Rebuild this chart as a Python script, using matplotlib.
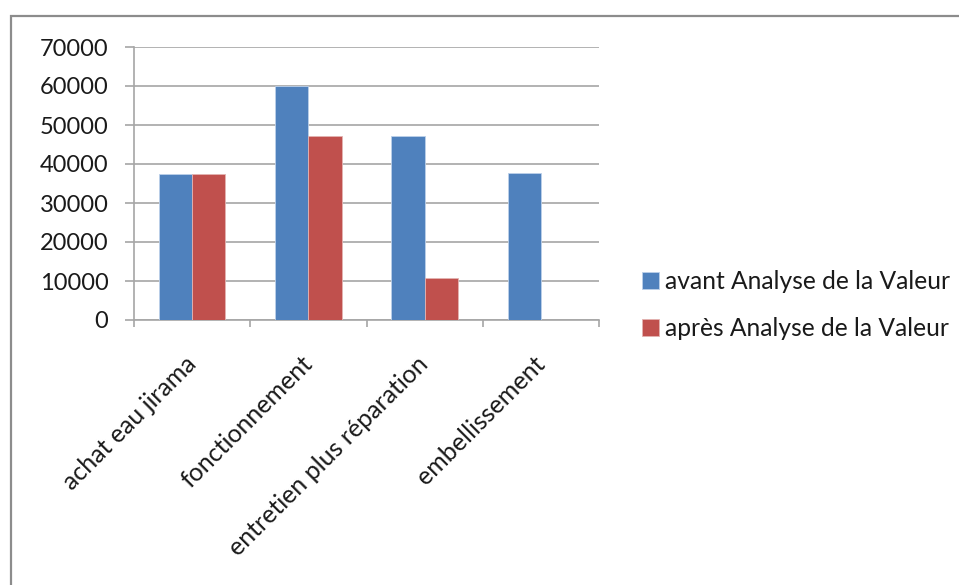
import numpy as np
import matplotlib.pyplot as plt
import matplotlib.transforms as mtransforms
from matplotlib.patches import Rectangle

categories = ['achat eau jirama', 'fonctionnement', 'entretien plus réparation', 'embellissement']
avant = [37400, 60000, 47200, 37700]
apres = [37400, 47200, 10700, 0]
series_names = ['avant Analyse de la Valeur', 'après Analyse de la Valeur']
yticks = [0, 10000, 20000, 30000, 40000, 50000, 60000, 70000]

blue = '#4F81BD'
red = '#C0504D'
grid = '#A6A6A6'

plt.rcParams['font.family'] = ['Lato', 'DejaVu Sans']

W, H = 959, 585
fig = plt.figure(figsize=(W / 100, H / 100), dpi=100)

# outer frame of the chart object (right and bottom edges fall outside the image)
fig.patches.append(Rectangle((11 / W, -0.2), 2, 1.2 - 16 / H, transform=fig.transFigure,
                             fill=False, edgecolor='#8C8C8C', linewidth=1.6))

ax = fig.add_axes([134 / W, (H - 320) / H, (599 - 134) / W, (320 - 47) / H])

x = np.arange(len(categories))
bw = 0.285
ax.bar(x - bw / 2, avant, bw, color=blue, edgecolor='#BCD0EA', linewidth=0.6,
       label=series_names[0], zorder=3)
ax.bar(x + bw / 2, apres, bw, color=red, edgecolor='#E3B3B2', linewidth=0.6,
       label=series_names[1], zorder=3)

ax.set_xlim(-0.5, len(categories) - 0.5)
ax.set_ylim(0, 70000)
ax.set_yticks(yticks)
ax.set_yticklabels([str(v) for v in yticks], fontsize=17, color='#1a1a1a')
ax.yaxis.grid(True, color=grid, linewidth=1.2, zorder=0)

ax.set_xticks(x)
ax.set_xticklabels(categories, rotation=45, ha='right', va='top',
                   rotation_mode='anchor', fontsize=18, color='#1a1a1a')
ax.tick_params(axis='x', which='major', length=0, pad=23)
shift = mtransforms.ScaledTranslation(-8 / 100, 0, fig.dpi_scale_trans)
for lbl in ax.get_xticklabels():
    lbl.set_transform(lbl.get_transform() + shift)
ax.set_xticks(np.arange(-0.5, len(categories)), minor=True)
ax.tick_params(axis='x', which='minor', length=5, width=1.2, color=grid)
ax.tick_params(axis='y', length=6.5, width=1.2, color=grid, pad=12)

for s in ['top', 'right']:
    ax.spines[s].set_visible(False)
for s in ['left', 'bottom']:
    ax.spines[s].set_color(grid)
    ax.spines[s].set_linewidth(1.2)

leg = ax.legend(loc='center left', bbox_to_anchor=(620 / W, (H - 305) / H),
                bbox_transform=fig.transFigure, frameon=False, fontsize=17.7,
                handlelength=0.7, handleheight=0.7, handletextpad=0.25,
                labelspacing=1.0, labelcolor='#1a1a1a')

fig.savefig('out.png', dpi=100)
